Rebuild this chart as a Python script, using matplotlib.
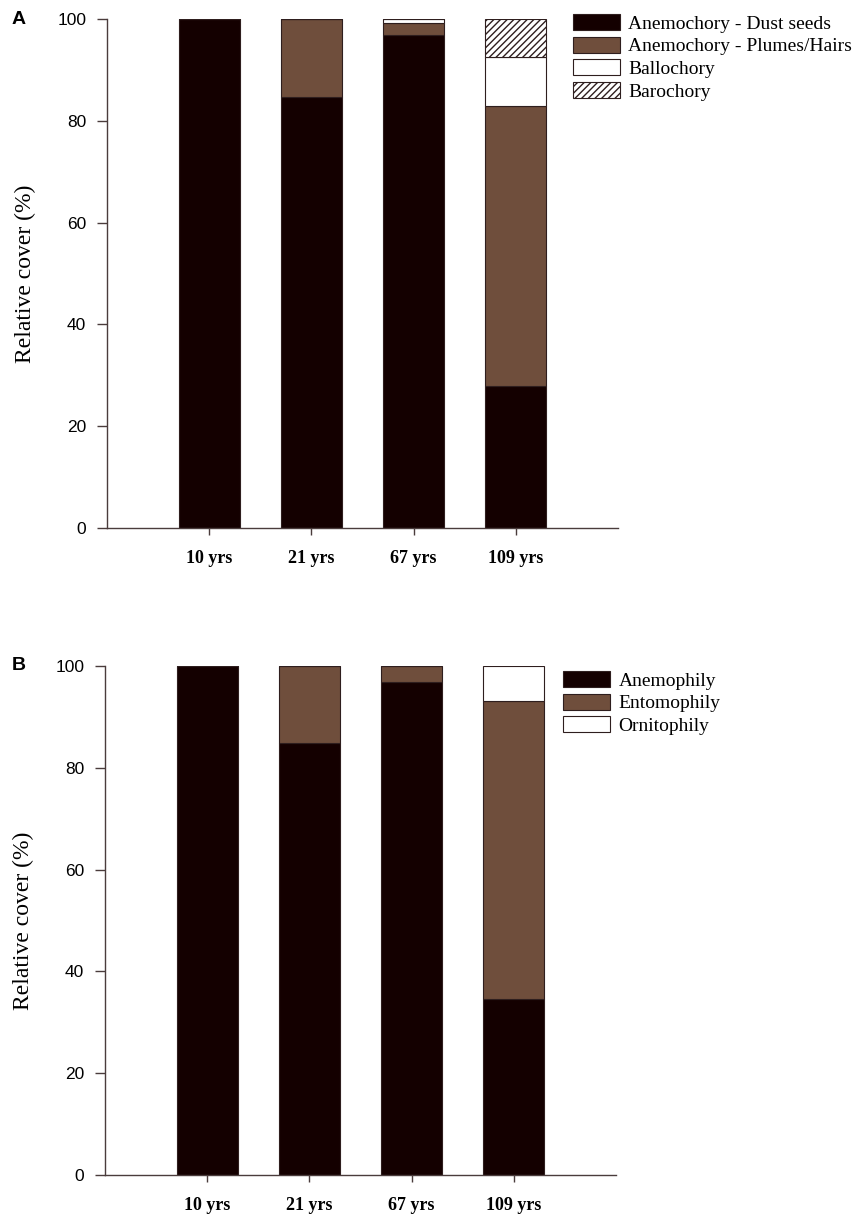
import matplotlib
matplotlib.use("Agg")
import matplotlib.pyplot as plt
import numpy as np

categories = ["10 yrs", "21 yrs", "67 yrs", "109 yrs"]

# Panel A: dispersal syndromes (relative cover, %)
dust_seeds = [100.0, 84.7, 96.9, 27.9]
plumes_hairs = [0.0, 15.3, 2.3, 55.0]
ballochory = [0.0, 0.0, 0.8, 9.6]
barochory = [0.0, 0.0, 0.0, 7.5]
labels_a = ["Anemochory - Dust seeds", "Anemochory - Plumes/Hairs", "Ballochory", "Barochory"]

# Panel B: pollination syndromes (relative cover, %)
anemophily = [100.0, 84.9, 96.9, 34.6]
entomophily = [0.0, 15.1, 3.1, 58.5]
ornitophily = [0.0, 0.0, 0.0, 6.9]
labels_b = ["Anemophily", "Entomophily", "Ornitophily"]
yticks = [0, 20, 40, 60, 80, 100]

DARK = "#140000"
BROWN = "#6F4E3C"
EDGE = "#2e1e1e"
SPINE = "#4a3c3c"

plt.rcParams["hatch.linewidth"] = 1.0
plt.rcParams["hatch.color"] = "black"

fig = plt.figure(figsize=(8.61, 12.15), dpi=100)

def style_axes(ax):
    ax.set_xlim(-1, 4)
    ax.set_ylim(0, 100)
    for s in ["top", "right"]:
        ax.spines[s].set_visible(False)
    ax.spines["left"].set_color(SPINE)
    ax.spines["bottom"].set_color(SPINE)
    ax.spines["left"].set_linewidth(1.0)
    ax.spines["bottom"].set_linewidth(1.0)
    ax.set_yticks(yticks)
    ax.set_yticklabels([str(t) for t in yticks], fontfamily="Liberation Sans", fontsize=12.5)
    ax.tick_params(axis="y", length=7, width=1.0, color=SPINE, pad=8)
    ax.set_xticks(np.arange(len(categories)))
    ax.set_xticklabels(categories, fontfamily="Liberation Serif", fontweight="bold", fontsize=13)
    ax.tick_params(axis="x", length=5, width=1.0, color=SPINE, pad=11)
    ax.set_ylabel("Relative cover (%)", fontfamily="Liberation Serif", fontsize=17)
    ax.yaxis.set_label_coords(-0.139, 0.5)

def stack(ax, series, colors, hatches, labels):
    x = np.arange(len(categories))
    bottom = np.zeros(len(categories))
    handles = []
    for vals, c, h, lab in zip(series, colors, hatches, labels):
        vals = np.array(vals)
        bars = ax.bar(x, vals, width=0.6, bottom=bottom, color=c, edgecolor=EDGE,
                      linewidth=0.8, hatch=h, label=lab)
        handles.append(bars)
        bottom = bottom + vals
    return handles

legend_kw = dict(loc="upper left", frameon=False,
                 prop={"family": "Liberation Serif", "size": 14},
                 handlelength=2.4, handleheight=0.9, labelspacing=0.2, handletextpad=0.45,
                 borderaxespad=0, borderpad=0)

# Panel A
axA = fig.add_axes([107/861, 1-528/1215, 511/861, 509/1215])
style_axes(axA)
hA = stack(axA, [dust_seeds, plumes_hairs, ballochory, barochory],
           [DARK, BROWN, "white", "white"], [None, None, None, "/////"], labels_a)
axA.legend(handles=hA, bbox_to_anchor=(573/861, 1-14/1215),
           bbox_transform=fig.transFigure, **legend_kw)
fig.text(12/861, 1-19/1215, "A", fontfamily="Liberation Sans", fontweight="bold", fontsize=14,
         va="center", ha="left")

# Panel B
axB = fig.add_axes([105/861, 1-1175/1215, 511/861, 509/1215])
style_axes(axB)
hB = stack(axB, [anemophily, entomophily, ornitophily],
           [DARK, BROWN, "white"], [None, None, None], labels_b)
axB.legend(handles=hB, bbox_to_anchor=(563/861, 1-671/1215),
           bbox_transform=fig.transFigure, **legend_kw)
fig.text(12/861, 1-666/1215, "B", fontfamily="Liberation Sans", fontweight="bold", fontsize=14,
         va="center", ha="left")

fig.savefig("out.png", dpi=100)
